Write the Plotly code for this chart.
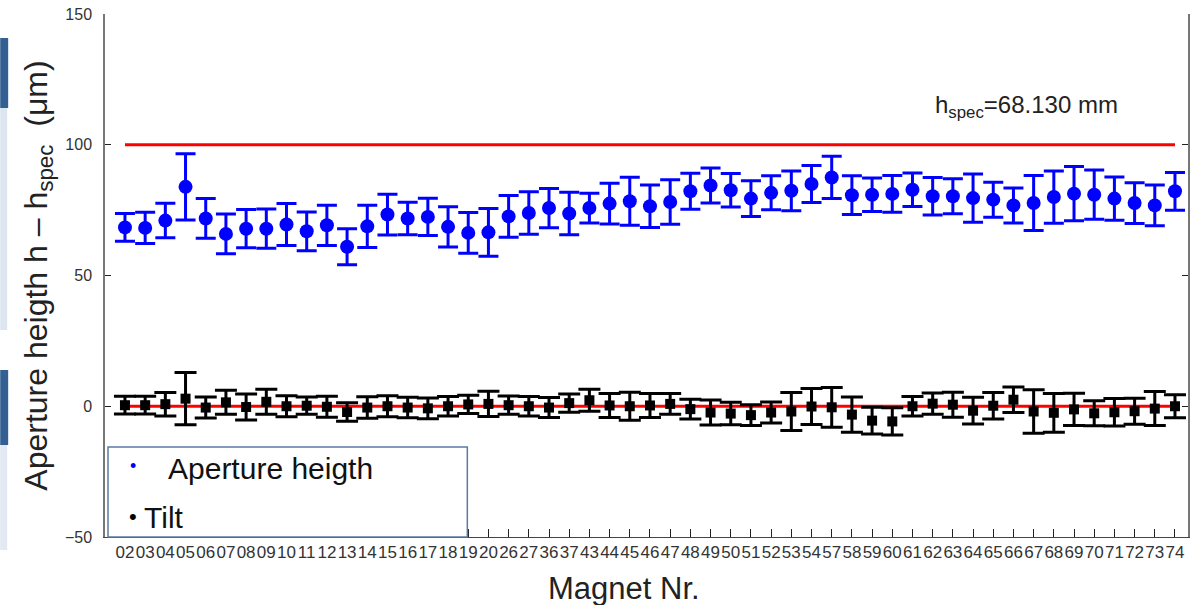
import plotly.graph_objects as go

labels = ["02","03","04","05","06","07","08","09","10","11","12","13","14","15","16","17","18","19","20",
          "26","27","36","37","43","44","45","46","47","48","49","50","51","52","53","54",
          "57","58","59","60","61","62","63","64","65","66","67","68","69","70","71","72","73","74"]

aperture = [68.4,68.2,71.0,83.9,71.8,65.9,67.9,67.9,69.5,66.9,69.2,61.0,68.8,73.3,71.8,72.4,68.6,66.3,66.5,
            72.6,73.9,75.8,73.7,75.8,77.5,78.4,76.5,78.1,82.2,84.4,82.6,79.4,81.6,82.4,85.0,
            87.5,80.7,80.9,81.2,82.8,80.3,80.3,79.6,79.0,76.8,77.7,80.0,81.3,80.9,79.4,77.7,76.8,82.2]
aperture_err = [5.3,6.0,6.6,12.7,7.6,7.6,7.3,7.5,8.0,7.4,7.7,6.9,8.1,7.8,6.2,7.1,7.7,7.8,9.1,
                8.0,8.1,7.5,8.1,5.7,7.8,9.2,8.1,8.5,6.9,6.7,6.4,6.8,6.5,7.6,7.1,
                8.1,7.4,6.4,7.0,6.4,7.2,6.7,9.2,6.7,6.7,10.5,10.0,10.4,9.4,8.3,7.8,7.8,7.2]

tilt = [0.4,0.4,0.8,2.9,-0.5,1.5,-0.3,1.7,0.0,0.2,-0.2,-2.2,-0.5,0.0,-0.5,-0.8,0.0,0.7,0.9,
        0.4,0.0,-0.5,1.2,2.3,0.3,0.0,0.3,0.9,-1.1,-2.4,-2.8,-3.4,-2.4,-2.0,-0.1,
        -0.4,-3.2,-5.5,-5.8,0.0,1.0,0.6,-1.7,0.2,2.5,-2.0,-2.5,-1.2,-2.7,-2.3,-1.9,-0.9,0.0]
tilt_err = [3.4,3.4,4.5,10.0,4.0,4.6,5.0,4.8,4.0,3.3,4.0,3.5,4.1,4.0,3.9,4.0,3.7,3.5,4.8,
            3.5,3.7,3.8,3.5,4.2,4.6,5.4,4.6,4.0,3.8,4.8,4.3,4.0,4.0,7.3,6.9,
            7.6,6.7,5.1,5.2,3.7,4.1,4.8,5.1,5.1,4.9,8.3,7.4,6.2,4.8,5.3,5.0,6.5,4.4]

spec_level = [100, 100]
zero_level = [0, 0]
y_ticks = [-50, 0, 50, 100, 150]

FONT = "Liberation Sans, Arial, sans-serif"
BLUE = "rgb(0,0,255)"

fig = go.Figure()

fig.add_trace(go.Scatter(x=[labels[0], labels[-1]], y=spec_level, mode="lines",
                         line=dict(color="red", width=3), showlegend=False, hoverinfo="skip"))
fig.add_trace(go.Scatter(x=[labels[0], labels[-1]], y=zero_level, mode="lines",
                         line=dict(color="red", width=3), showlegend=False, hoverinfo="skip"))

fig.add_trace(go.Scatter(
    x=labels, y=aperture, mode="markers", name="Aperture heigth",
    marker=dict(color=BLUE, size=14, symbol="circle"),
    error_y=dict(type="data", array=aperture_err, visible=True, color=BLUE, thickness=3, width=10),
    showlegend=False))

fig.add_trace(go.Scatter(
    x=labels, y=tilt, mode="markers", name="Tilt",
    marker=dict(color="black", size=10, symbol="square"),
    error_y=dict(type="data", array=tilt_err, visible=True, color="black", thickness=3, width=11),
    showlegend=False))

L, R, T, B = 105, 4, 14, 68
W, H = 1194, 605
pw, ph = W - L - R, H - T - B

def px(xp):
    return (xp - L) / pw

def py(yp):
    return (H - B - yp) / ph

shapes = [
    # legend box
    dict(type="rect", xref="paper", yref="paper", x0=px(108), x1=px(468), y0=py(537), y1=py(447),
         fillcolor="white", line=dict(color="#5a7aa6", width=1.5), layer="above"),
    # slide artifacts on the left edge
    dict(type="rect", xref="paper", yref="paper", x0=px(0), x1=px(8), y0=py(108), y1=py(38),
         fillcolor="#335f92", line=dict(width=0), layer="above"),
    dict(type="rect", xref="paper", yref="paper", x0=px(0), x1=px(7), y0=py(330), y1=py(108),
         fillcolor="#dce5f0", line=dict(width=0), layer="above"),
    dict(type="rect", xref="paper", yref="paper", x0=px(0), x1=px(8), y0=py(445), y1=py(370),
         fillcolor="#335f92", line=dict(width=0), layer="above"),
    dict(type="rect", xref="paper", yref="paper", x0=px(0), x1=px(7), y0=py(550), y1=py(445),
         fillcolor="#e3e9f3", line=dict(width=0), layer="above"),
]

annotations = [
    dict(text="h<sub>spec</sub>=68.130 mm", xref="paper", yref="paper", x=px(1028), y=py(106),
         xanchor="center", yanchor="middle", showarrow=False, font=dict(size=24, color="#222", family=FONT)),
    dict(text="•", xref="paper", yref="paper", x=px(133), y=py(466),
         xanchor="center", yanchor="middle", showarrow=False, font=dict(size=18, color=BLUE, family=FONT)),
    dict(text="Aperture heigth", xref="paper", yref="paper", x=px(166), y=py(468),
         xanchor="left", yanchor="middle", showarrow=False, font=dict(size=30, color="#111", family=FONT)),
    dict(text="•", xref="paper", yref="paper", x=px(133), y=py(516),
         xanchor="center", yanchor="middle", showarrow=False, font=dict(size=22, color="black", family=FONT)),
    dict(text="Tilt", xref="paper", yref="paper", x=px(142), y=py(517),
         xanchor="left", yanchor="middle", showarrow=False, font=dict(size=30, color="#111", family=FONT)),
    dict(text="Magnet Nr.", xref="paper", yref="paper", x=px(625), y=py(588),
         xanchor="center", yanchor="middle", showarrow=False, font=dict(size=31, color="#222", family=FONT)),
]

fig.update_layout(
    width=W, height=H,
    margin=dict(l=L, r=R, t=T, b=B, pad=0),
    paper_bgcolor="white", plot_bgcolor="white",
    font=dict(family=FONT, color="#333"),
    shapes=shapes, annotations=annotations,
    xaxis=dict(
        type="category", categoryorder="array", categoryarray=labels,
        range=[(L - 125) / 20.23, (W - R - 125) / 20.23],
        tickmode="array", tickvals=labels, ticktext=labels, tickangle=0,
        tickfont=dict(size=17, color="#333", family=FONT),
        ticks="inside", ticklen=8, tickcolor="#222", tickwidth=1,
        showline=True, linecolor="#444", linewidth=1, showgrid=False, zeroline=False,
    ),
    yaxis=dict(
        range=[-50, 150], tickmode="array", tickvals=y_ticks,
        tickfont=dict(size=16, color="#333", family=FONT), ticklabelstandoff=8,
        ticks="inside", ticklen=6, tickcolor="#222", tickwidth=1, mirror="ticks",
        showline=True, linecolor="#777", linewidth=1.5, showgrid=False, zeroline=False,
        title=dict(text="Aperture heigth h \u2013 h<sub>spec</sub>  (\u03bcm)",
                   font=dict(size=32, color="#222", family=FONT), standoff=8),
    ),
)

fig.write_html("out.html")
